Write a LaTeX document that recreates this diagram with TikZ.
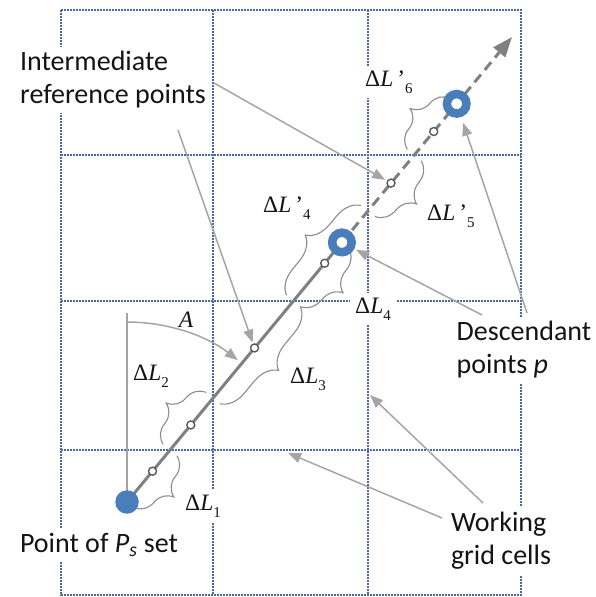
\documentclass[tikz,border=0pt]{standalone}
\usepackage{fontspec}
\setmainfont{Carlito}
\newfontfamily\tnr{Liberation Serif}
\usetikzlibrary{arrows.meta,decorations.pathreplacing,calc}
\definecolor{gridc}{RGB}{74,105,160}
\definecolor{ptblue}{RGB}{74,126,187}
\definecolor{mainc}{RGB}{128,128,128}
\definecolor{leadc}{RGB}{165,165,165}
\definecolor{brc}{RGB}{140,140,140}
\definecolor{txt}{RGB}{20,20,20}
\newcommand\dlab[2]{{\tnr\fontsize{23.5}{26}\selectfont Δ\textit{L}#1\raisebox{-7pt}{\fontsize{15}{15}\selectfont #2}}}
\begin{document}
\begin{tikzpicture}[x=1pt,y=-1pt,
  gridline/.style={gridc,line width=1.6pt,dash pattern=on 1.6pt off 1.4pt},
  lbl/.style={fill=white,inner xsep=1pt,inner ysep=5pt,text=txt,font=\fontsize{28}{33}\selectfont,align=left},
  mlbl/.style={fill=white,inner sep=5pt,text=txt,anchor=west},
  br/.style={brc,line width=1.1pt,decorate,decoration={brace,amplitude=24pt}},
  brm/.style={brc,line width=1.1pt,decorate,decoration={brace,amplitude=24pt,mirror}},
  lead/.style={leadc,line width=1.5pt,-{Triangle[length=13pt,width=10pt]}},
  mainline/.style={mainc,line width=3pt},
  refpt/.style={circle,draw=mainc!70!black,fill=white,line width=1.4pt,minimum size=8pt,inner sep=0pt},
  descpt/.style={circle,draw=ptblue,fill=white,line width=8.5pt,minimum size=19.5pt,inner sep=0pt},
  pspt/.style={circle,fill=ptblue,minimum size=23.5pt,inner sep=0pt},
]
\useasboundingbox (0,0) rectangle (596,597);
% grid
\draw[gridline] (61,10) rectangle (521,595);
\draw[gridline] (213,10) -- (213,595);
\draw[gridline] (368,10) -- (368,595);
\draw[gridline] (61,155) -- (521,155);
\draw[gridline] (61,301) -- (521,301);
\draw[gridline] (61,450) -- (521,450);
% text labels
\node[lbl] (inter) at (113,80) {Intermediate\\reference points};
\node[lbl] (psset) at (99,545) {Point of \textit{P}\textsubscript{\textit{s}} set};
\node[lbl] (descl) at (524,350) {Descendant\\points \textit{p}};
\node[lbl] (work) at (501,541) {Working\\grid cells};
% math labels
\node[mlbl] (l1) at (180,506) {\dlab{}{1}};
\node[mlbl] (l2) at (128,376) {\dlab{}{2}};
\node[mlbl] (l3) at (285,379) {\dlab{}{3}};
\node[mlbl] (l4) at (350,309) {\dlab{}{4}};
\node[mlbl] (l4p) at (258,208) {\dlab{\,’}{4}};
\node[mlbl] (l5p) at (422,216) {\dlab{\,’}{5}};
\node[mlbl] (l6p) at (360,82) {\dlab{\,’}{6}};
\node[text=txt,inner sep=1pt] (angA) at (186,320) {\tnr\fontsize{23.5}{26}\selectfont\textit{A}};
% key coordinates along the main line
\coordinate (O) at (127,502);
\coordinate (Tip) at (512,37);
\coordinate (X1) at ($(O)!67.5pt!(Tip)$);
\coordinate (X2) at ($(O)!135pt!(Tip)$);
\coordinate (X3) at ($(O)!261pt!(Tip)$);
\coordinate (X4) at ($(O)!378pt!(Tip)$);
\coordinate (X5) at ($(O)!450.5pt!(Tip)$);
\coordinate (p1) at ($(O)!337pt!(Tip)$);
\coordinate (p2) at ($(O)!517pt!(Tip)$);
% angle
\coordinate (vtop) at (127,313);
\coordinate (arcs) at (127,322);
\draw[leadc,line width=1.5pt] (O) -- (vtop);
\draw[lead] (arcs) arc[start angle=-90,end angle=-52,radius=180];
% braces
\draw[brm] ($(O)+(6.9,5.7)$) -- ($(X1)+(6.9,5.7)$);
\draw[br] ($(X1)+(-6.9,-5.7)$) -- ($(X2)+(-6.9,-5.7)$);
\draw[brm] ($(X2)+(6.9,5.7)$) -- ($(X3)+(6.9,5.7)$);
\draw[brm] ($(X3)+(6.9,5.7)$) -- ($(p1)+(6.9,5.7)$);
\draw[br] ($(X3)+(-6.9,-5.7)$) -- ($(X4)+(-6.9,-5.7)$);
\draw[brm] ($(X4)+(6.9,5.7)$) -- ($(X5)+(6.9,5.7)$);
\draw[br] ($(X5)+(-6.9,-5.7)$) -- ($(p2)+(-6.9,-5.7)$);
% main line
\draw[mainline] (O) -- (p1);
\draw[mainline,dash pattern=on 10pt off 6pt,-{Triangle[length=20pt,width=15pt]}] (p1) -- (Tip);
% points
\node[refpt] (c1) at ($(O)!40pt!(Tip)$) {};
\node[refpt] (c2) at ($(O)!100pt!(Tip)$) {};
\node[refpt] (c3) at ($(O)!200pt!(Tip)$) {};
\node[refpt] (c4) at ($(O)!310pt!(Tip)$) {};
\node[refpt] (c5) at ($(O)!414pt!(Tip)$) {};
\node[refpt] (c6) at ($(O)!481pt!(Tip)$) {};
\node[descpt] (P1) at (p1) {};
\node[descpt] (P2) at (p2) {};
\node[pspt] (Ps) at (O) {};
% leaders
\coordinate (i1) at (214,83);
\coordinate (i2) at (178,130);
\coordinate (d1) at (482,315);
\coordinate (d2) at (527,313);
\coordinate (w1) at (442,518);
\coordinate (w2) at (483,503);
\coordinate (wt1) at (288,453);
\coordinate (wt2) at (370,395);
\draw[lead,shorten >=2pt] (i1) -- (c5);
\draw[lead,shorten >=1pt] (i2) -- (c3);
\draw[lead,shorten >=2pt] (d1) -- (P1);
\draw[lead,shorten >=6pt] (d2) -- (P2);
\draw[lead] (w1) -- (wt1);
\draw[lead] (w2) -- (wt2);
\end{tikzpicture}
\end{document}
